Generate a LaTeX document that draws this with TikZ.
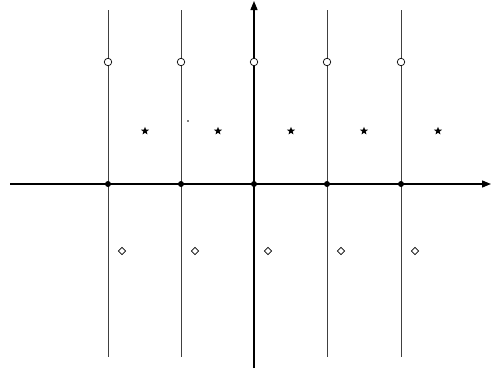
\documentclass[tikz,border=0pt]{standalone}
\usetikzlibrary{arrows.meta,shapes.geometric}
\begin{document}
\begin{tikzpicture}[x=1pt,y=-1pt,
  axis/.style={line width=1.3pt,-{Triangle[length=9pt,width=7pt]}},
  vline/.style={line width=0.8pt,black!75},
  hole/.style={circle,draw,line width=0.7pt,fill=white,inner sep=0pt,minimum size=7.5pt},
  knot/.style={circle,fill=black,inner sep=0pt,minimum size=6pt},
  starmark/.style={star,star points=5,star point ratio=2.4,fill=black,inner sep=0pt,minimum size=8.5pt},
  diamark/.style={diamond,draw,line width=0.7pt,inner sep=0pt,minimum size=7.5pt,fill=white}]
\useasboundingbox (0,0) rectangle (491,372);
\foreach \i/\x in {1/108,2/181,3/254,4/327,5/401}{
  \coordinate (t\i) at (\x,10);
  \coordinate (b\i) at (\x,357);
}
\foreach \i in {1,2,4,5}{ \draw[vline] (t\i) -- (b\i); }
\coordinate (xs) at (10,184);
\coordinate (xe) at (491,184);
\coordinate (ys) at (254,368);
\coordinate (ye) at (254,1);
\draw[axis] (xs) -- (xe);
\draw[axis] (ys) -- (ye);
\foreach \i/\x in {1/108,2/181,3/254,4/327,5/401}{
  \node[hole] (c\i) at (\x,62) {};
  \node[knot] (k\i) at (\x,184) {};
  \node[diamark] (d\i) at (\x+14,251) {};
  \node[starmark] (s\i) at (\x+37,131) {};
}
\fill (188,121) circle (0.9pt);
\end{tikzpicture}
\end{document}
